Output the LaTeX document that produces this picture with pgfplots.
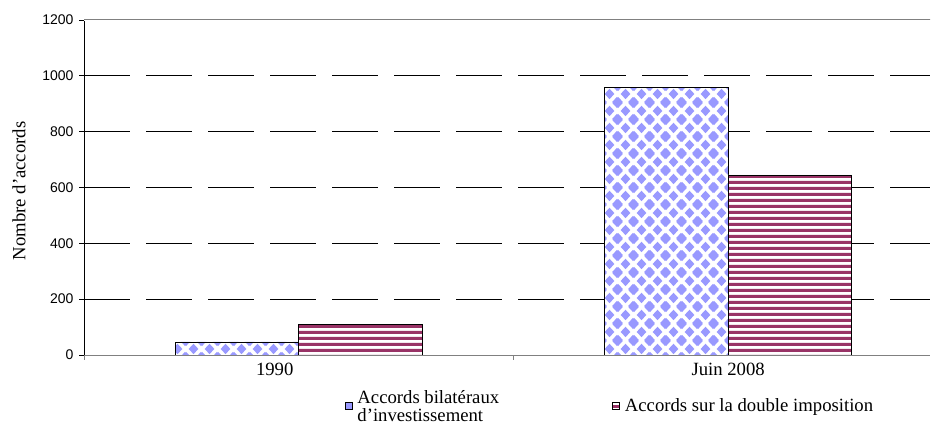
\documentclass[border=0pt]{standalone}
\usepackage{fontspec}
\setmainfont{Liberation Serif}
\newfontfamily\arialfont{Liberation Sans}
\usepackage{pgfplots}
\pgfplotsset{compat=1.18}
\usetikzlibrary{patterns}

\definecolor{diamblue}{HTML}{9999FF}
\definecolor{maroonc}{HTML}{993366}
\definecolor{axgray}{HTML}{808080}

\newcommand\diam[2]{%
  \pgfpathmoveto{\pgfpoint{#1bp-5.0bp}{#2bp}}%
  \pgfpathlineto{\pgfpoint{#1bp}{#2bp+5.5bp}}%
  \pgfpathlineto{\pgfpoint{#1bp+5.0bp}{#2bp}}%
  \pgfpathlineto{\pgfpoint{#1bp}{#2bp-5.5bp}}%
  \pgfpathclose}
\pgfdeclarepatternformonly{bluediamonds}{\pgfpointorigin}{\pgfpoint{15.5bp}{17bp}}{\pgfpoint{15.5bp}{17bp}}{%
  \diam{7.75}{8.5}\diam{0}{0}\diam{15.5}{0}\diam{0}{17}\diam{15.5}{17}%
  \pgfusepath{fill}}
\pgfdeclarepatternformonly{maroonstripes}{\pgfpointorigin}{\pgfpoint{6bp}{5.6bp}}{\pgfpoint{6bp}{5.6bp}}{%
  \pgfpathrectangle{\pgfpoint{-1bp}{0bp}}{\pgfpoint{8bp}{3.3bp}}%
  \pgfusepath{fill}}

\pgfplotsset{
  bluelegend/.style={legend image code/.code={%
    \draw[draw=black, fill=diamblue, line width=0.7bp] (0bp,-3.5bp) rectangle (7bp,3.5bp);
    \path (10bp,0bp);}},
  maroonlegend/.style={legend image code/.code={%
    \draw[draw=maroonc!70!black, fill=white, line width=0.7bp] (0bp,-3.5bp) rectangle (7bp,3.5bp);
    \fill[maroonc] (0bp,1.2bp) rectangle (7bp,3.5bp);
    \fill[maroonc] (0bp,-3.5bp) rectangle (7bp,-1.5bp);
    \draw[draw=black, line width=0.7bp] (0bp,-3.5bp) rectangle (7bp,3.5bp);
    \path (10bp,0bp);}},
}

\begin{document}
\begin{tikzpicture}
\begin{axis}[
  scale only axis, width=846bp, height=335bp,
  xmin=-0.5, xmax=1.47, ymin=0, ymax=1200,
  ybar=0pt, bar width=0.2875,
  axis x line*=bottom, axis y line*=left,
  x axis line style={draw=axgray, line width=0.8bp, -},
  y axis line style={draw=black, line width=0.8bp, -},
  xtick={0,1},
  xticklabels={{1990\hspace*{48bp}},{Juin 2008}},
  major x tick style={draw=none},
  minor xtick={-0.5,0.5},
  minor x tick style={draw=axgray, line width=0.8bp},
  tick align=outside, major tick length=5bp, minor tick length=5bp,
  ytick={0,200,...,1200},
  ytick style={draw=black, line width=0.8bp},
  ymajorgrids,
  y grid style={black, line width=0.8bp, dash pattern=on 46bp off 16bp},
  /pgf/number format/assume math mode=true,
  scaled y ticks=false,
  y tick label style={font=\arialfont\fontsize{14bp}{16bp}\selectfont, xshift=-2bp, /pgf/number format/1000 sep={}},
  x tick label style={font=\fontsize{18.7bp}{21bp}\selectfont},
  ylabel={Nombre d’accords},
  ylabel style={font=\fontsize{18.7bp}{21bp}\selectfont, at={(rel axis cs:-0.0768,0.49)}, anchor=center},
  legend columns=2,
  legend style={at={(0.308,-0.098)}, anchor=north west, draw=none, fill=none, inner sep=0pt,
    font=\fontsize{18.7bp}{18bp}\selectfont,
    cells={align=left, anchor=west},
    /tikz/every even column/.append style={column sep=111bp}},
]
\addplot[draw=black, line width=0.7bp, preaction={fill=white}, pattern=bluediamonds, pattern color=diamblue, bluelegend]
  coordinates {(0,47) (1,959)};
\addlegendentry{Accords bilatéraux\\d’investissement}
\addplot[draw=black, line width=0.7bp, preaction={fill=white}, pattern=maroonstripes, pattern color=maroonc, maroonlegend]
  coordinates {(0,108) (1,645)};
\addlegendentry{Accords sur la double imposition}
\draw[white, line width=2bp] (rel axis cs:0,1) -- (rel axis cs:1.003,1);
\draw[axgray, line width=1bp] (rel axis cs:0,1) -- (rel axis cs:1.003,1);
\coordinate (BL) at (rel axis cs:-0.0993,-0.20896);
\coordinate (TR) at (rel axis cs:1.00236,1.0597);
\end{axis}
\pgfresetboundingbox
\useasboundingbox (BL) rectangle (TR);
\end{tikzpicture}
\end{document}
